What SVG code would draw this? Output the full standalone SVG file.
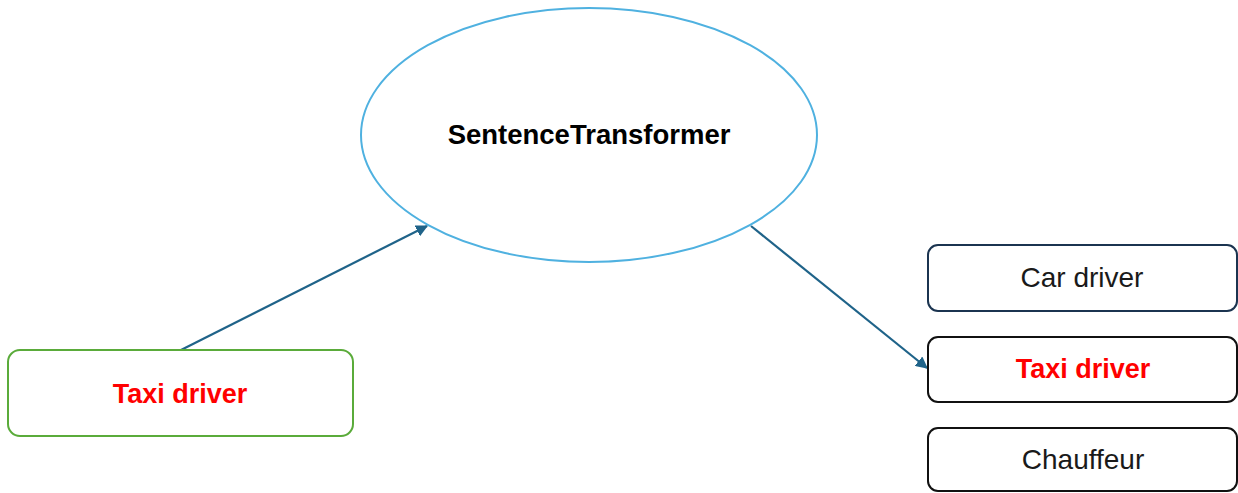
<svg xmlns="http://www.w3.org/2000/svg" width="1238" height="493" viewBox="0 0 1238 493">
<defs>
<style>
.lbl{font-family:"Liberation Sans",Arial,sans-serif;text-anchor:middle}
.b{font-weight:bold;font-size:27px}
.r{font-size:28px;fill:#1a1a1a}
.red{fill:#ff0000}
.box{fill:#ffffff;stroke-width:2}
.conn{stroke:#1f6389;stroke-width:2.2;fill:none;marker-end:url(#ah)}
</style>
<marker id="ah" viewBox="0 0 10 10" refX="9" refY="5" markerWidth="5.5" markerHeight="5.5" orient="auto" markerUnits="strokeWidth">
<path d="M0,0 L10,5 L0,10 z" fill="#1f6389"/>
</marker>
</defs>
<rect width="1238" height="493" fill="#ffffff"/>
<g id="connectors">
<line class="conn" x1="181" y1="350" x2="427" y2="226"/>
<line class="conn" x1="751" y1="226" x2="927" y2="368"/>
</g>
<g id="sentence-transformer">
<ellipse cx="589" cy="135" rx="228" ry="127" fill="#ffffff" stroke="#4fb1e0" stroke-width="2"/>
<text class="lbl b" x="589" y="144" fill="#000000" style="font-size:27.5px">SentenceTransformer</text>
</g>
<g id="input-taxi-driver">
<rect class="box" x="8" y="350" width="345" height="86" rx="12" stroke="#5aab3a"/>
<text class="lbl b red" x="180" y="403">Taxi driver</text>
</g>
<g id="car-driver">
<rect class="box" x="928" y="245" width="309" height="66" rx="10" stroke="#1b3450"/>
<text class="lbl r" x="1082" y="287">Car driver</text>
</g>
<g id="output-taxi-driver">
<rect class="box" x="928" y="337" width="309" height="65" rx="10" stroke="#111111"/>
<text class="lbl b red" x="1083" y="378">Taxi driver</text>
</g>
<g id="chauffeur">
<rect class="box" x="928" y="428" width="309" height="63" rx="10" stroke="#111111"/>
<text class="lbl r" x="1083" y="469">Chauffeur</text>
</g>
</svg>
